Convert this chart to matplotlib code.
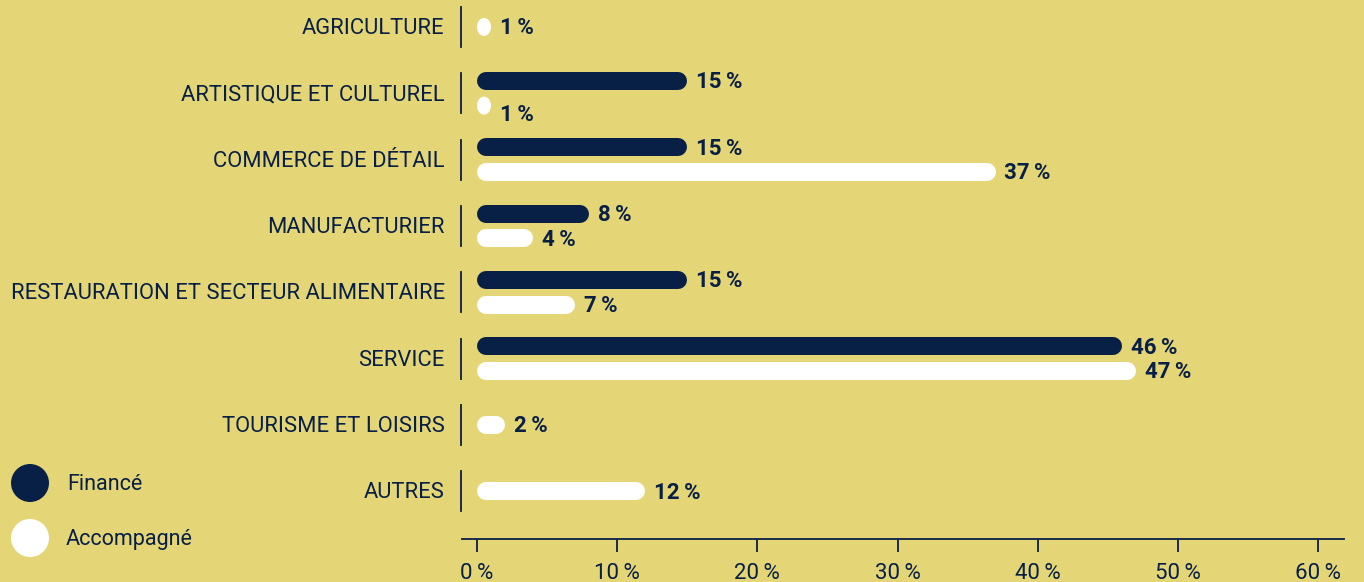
import numpy as np
import matplotlib.pyplot as plt
from matplotlib.patches import Ellipse

categories = ['AGRICULTURE', 'ARTISTIQUE ET CULTUREL', 'COMMERCE DE DÉTAIL',
              'MANUFACTURIER', 'RESTAURATION ET SECTEUR ALIMENTAIRE',
              'SERVICE', 'TOURISME ET LOISIRS', 'AUTRES']
finance = [None, 15, 15, 8, 15, 46, None, None]
accompagne = [1, 1, 37, 4, 7, 47, 2, 12]
xticks = [0, 10, 20, 30, 40, 50, 60]

bg = '#E4D676'
navy = '#081F46'
white = '#FFFFFF'

W, H = 1364, 582
px_per_unit = 14.02      # pixels per 1 %
x0_px = 477              # pixel of 0 %
row0_px, row_step = 27, 66.3
axis_px = 539

plt.rcParams['font.family'] = ['Roboto', 'DejaVu Sans']

fig = plt.figure(figsize=(W / 100, H / 100), dpi=100, facecolor=bg)
left_px, right_px = 462, 1344
ax = fig.add_axes([left_px / W, (H - axis_px) / H, (right_px - left_px) / W, axis_px / H])
ax.set_facecolor(bg)
ax.set_xlim((left_px - x0_px) / px_per_unit, (right_px - x0_px) / px_per_unit)
ax.set_ylim((axis_px - row0_px) / row_step, -row0_px / row_step)

for s in ['top', 'right', 'left']:
    ax.spines[s].set_visible(False)
ax.spines['bottom'].set_color(navy)
ax.spines['bottom'].set_linewidth(1.3)
ax.set_yticks([])
ax.set_xticks(xticks)
ax.set_xticklabels([f'{t}\u2009%' for t in xticks])
ax.tick_params(axis='x', direction='out', length=9.5, width=1.3, color=navy,
               labelcolor=navy, labelsize=16, pad=8)

bar_h = 18 / row_step
bar_lw = 18 * 72 / 100
cap = 9 / px_per_unit
off = 12.3 / row_step
lab_gap = 0.62
dy = 1.5 / row_step      # text sits a touch lower than geometric centre


def draw_bar(v, y, color):
    if v - cap <= cap:
        # too short for a pill: draw an oval the width of the value
        ax.add_patch(Ellipse((v / 2, y), v, bar_h, facecolor=color, edgecolor='none',
                             clip_on=False))
        return
    ax.plot([cap, v - cap], [y, y], color=color, lw=bar_lw, solid_capstyle='round',
            clip_on=False)


for i, cat in enumerate(categories):
    ax.text(-2.3, i + dy, cat, ha='right', va='center', fontsize=15.8, color=navy, clip_on=False)
    ax.plot([-1.15, -1.15], [i - 20 / row_step, i + 20 / row_step], color=navy, lw=1.3,
            clip_on=False)
    f = finance[i]
    a = accompagne[i]
    if f is not None:
        draw_bar(f, i - off, navy)
        ax.text(f + lab_gap, i - off + dy, f'{f}\u2009%', ha='left', va='center', fontsize=16,
                fontweight='bold', color=navy)
        ya = i + off
        yl = ya + (8 / row_step if a < 3 else 0)
    else:
        ya = yl = i
    draw_bar(a, ya, white)
    ax.text(a + lab_gap, yl + dy, f'{a}\u2009%', ha='left', va='center', fontsize=16,
            fontweight='bold', color=navy)

# legend
leg = fig.add_axes([0, 0, 1, 1])
leg.set_xlim(0, W)
leg.set_ylim(H, 0)
leg.axis('off')
leg.scatter([30, 30], [483, 538], s=(38 * 0.72) ** 2, c=[navy, white], edgecolors='none')
leg.text(67, 484, 'Financé', ha='left', va='center', fontsize=15.5, color=navy)
leg.text(66, 539, 'Accompagné', ha='left', va='center', fontsize=15.5, color=navy)

fig.savefig('out.png', dpi=100, facecolor=bg)
